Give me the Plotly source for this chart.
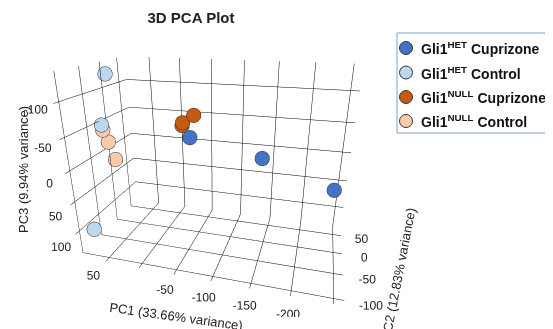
import plotly.graph_objects as go

groups = ["Gli1<sup>HET</sup> Cuprizone", "Gli1<sup>HET</sup> Control",
          "Gli1<sup>NULL</sup> Cuprizone", "Gli1<sup>NULL</sup> Control"]
colors = ["#4472C4", "#BDD7EE", "#C55A11", "#F8CBAD"]

pc1_het_cup = [-25, -137, -243]
pc2_het_cup = [40, 40, 40]
pc3_het_cup = [-15, 10, 52]

pc1_het_ctl = [88, 88, 88]
pc2_het_ctl = [5, -20, -72]
pc3_het_ctl = [-121, -45, 114]

pc1_null_cup = [-32, -14, -13]
pc2_null_cup = [40, 40, 40]
pc3_null_cup = [-54, -40, -35]

pc1_null_ctl = [88, 88, 88]
pc2_null_ctl = [-18, -7, 8]
pc3_null_ctl = [-36, -12, 25]

x_ticks = [50, 0, -50, -100, -150, -200, -250]
x_labels = ["50", "", "-50", "-100", "-150", "-200", "-250"]
y_ticks = [-100, -50, 0, 50]
z_ticks = [-100, -50, 0, 50, 100]

data = [
    (pc1_het_cup, pc2_het_cup, pc3_het_cup),
    (pc1_het_ctl, pc2_het_ctl, pc3_het_ctl),
    (pc1_null_cup, pc2_null_cup, pc3_null_cup),
    (pc1_null_ctl, pc2_null_ctl, pc3_null_ctl),
]

FONT = "Liberation Sans, Arial, sans-serif"
W, H = 553, 329
OFF = 8  # page body margin offset

fig = go.Figure()
for name, col, (x, y, z) in zip(groups, colors, data):
    fig.add_trace(go.Scatter3d(
        x=x, y=y, z=z, mode="markers", name=name, showlegend=False,
        marker=dict(size=8.5, color=col, opacity=1, line=dict(color="#333333", width=1)),
    ))

def px(xs):
    return (xs - OFF) / W

def py(ys):
    return 1 - (ys - OFF) / H

# custom legend (box, circles, labels) - positions in screen pixels
leg_left, leg_top, leg_bottom = 397, 33, 133
row_y = [48, 72.5, 97, 121]
bc = dict(color="#A9BFD9", width=1.5)
shapes = [
    dict(type="line", xref="paper", yref="paper", x0=px(leg_left), x1=px(leg_left),
         y0=py(leg_bottom), y1=py(leg_top), line=bc),
    dict(type="line", xref="paper", yref="paper", x0=px(leg_left), x1=1.0,
         y0=py(leg_top), y1=py(leg_top), line=bc),
    dict(type="line", xref="paper", yref="paper", x0=px(leg_left), x1=1.0,
         y0=py(leg_bottom), y1=py(leg_bottom), line=bc),
]
annotations = []
for name, col, ry in zip(groups, colors, row_y):
    shapes.append(dict(type="circle", xref="paper", yref="paper",
                       xsizemode="pixel", ysizemode="pixel",
                       xanchor=px(406), yanchor=py(ry),
                       x0=-6.5, x1=6.5, y0=-6.5, y1=6.5,
                       fillcolor=col, line=dict(color="#333333", width=1)))
    annotations.append(dict(xref="paper", yref="paper", x=px(419), y=py(ry),
                            xanchor="left", yanchor="middle", showarrow=False,
                            text="<b>" + name + "</b>",
                            font=dict(size=14, color="#111111", family=FONT)))

# axis titles
for text, cx, cy, ang in [("PC1 (33.66% variance)", 176, 316, 8),
                          ("PC2 (12.83% variance)", 398, 274, -79),
                          ("PC3 (9.94% variance)", 23, 170, -90)]:
    annotations.append(dict(xref="paper", yref="paper", x=px(cx), y=py(cy),
                            xanchor="center", yanchor="middle", showarrow=False,
                            text=text, textangle=ang,
                            font=dict(size=13, color="#222222", family=FONT)))

axis_common = dict(showbackground=False, gridcolor="#000000", gridwidth=1,
                   zeroline=False, showline=False, showspikes=False,
                   tickfont=dict(size=12, color="#222222", family=FONT),
                   ticks="", tickangle=0, title=dict(text=""))

fig.update_layout(
    width=W, height=H,
    paper_bgcolor="white",
    margin=dict(l=0, r=0, t=0, b=0),
    title=dict(text="<b>3D PCA Plot</b>", x=px(191), xanchor="center", y=py(18), yanchor="middle",
               font=dict(size=15, color="#222222", family=FONT)),
    font=dict(family=FONT, color="#333333"),
    showlegend=False,
    shapes=shapes,
    annotations=annotations,
    scene=dict(
        domain=dict(x=[0.02, 0.74], y=[0.06, 1.0]),
        xaxis=dict(axis_common, range=[92, -262], tickvals=x_ticks, ticktext=x_labels),
        yaxis=dict(axis_common, range=[-110, 75], tickvals=y_ticks,
                   ticktext=[str(v) for v in y_ticks]),
        zaxis=dict(axis_common, range=[140, -140], tickvals=z_ticks,
                   ticktext=[str(v) for v in z_ticks]),
        aspectmode="manual", aspectratio=dict(x=1.4, y=0.7, z=1.0),
        camera=dict(eye=dict(x=0.5, y=-1.8, z=0.75), center=dict(x=0, y=0, z=0),
                    up=dict(x=0, y=0, z=1)),
    ),
)
fig.write_html("out.html")
